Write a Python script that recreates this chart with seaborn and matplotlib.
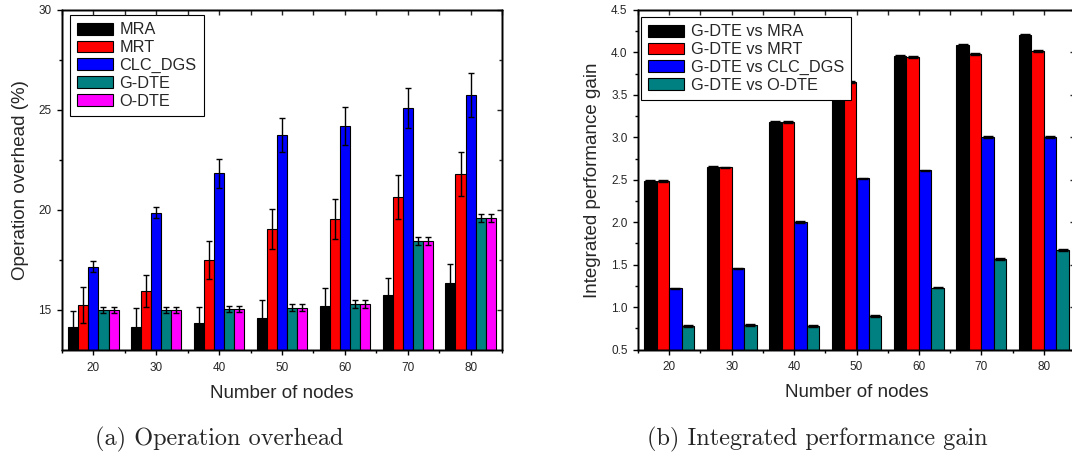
import numpy as np
import pandas as pd
import matplotlib
matplotlib.use("Agg")
import matplotlib.pyplot as plt
import seaborn as sns
from matplotlib.ticker import FixedLocator, MultipleLocator, FormatStrFormatter

# ---------------- data ----------------
nodes = ["20", "30", "40", "50", "60", "70", "80"]

# (a) Operation overhead (%)
methods_a = ["MRA", "MRT", "CLC_DGS", "G-DTE", "O-DTE"]
mra = [14.17, 14.15, 14.33, 14.58, 15.20, 15.75, 16.33]
mra_err = [0.80, 0.97, 0.83, 0.92, 0.88, 0.83, 0.95]
mrt = [15.25, 15.95, 17.50, 19.05, 19.55, 20.67, 21.80]
mrt_err = [0.92, 0.80, 0.97, 1.00, 1.00, 1.10, 1.08]
clc = [17.17, 19.87, 21.83, 23.75, 24.22, 25.08, 25.75]
clc_err = [0.28, 0.27, 0.73, 0.87, 0.95, 1.00, 1.12]
gdte = [15.00, 15.00, 15.05, 15.12, 15.30, 18.45, 19.58]
gdte_err = [0.17, 0.17, 0.17, 0.17, 0.20, 0.18, 0.20]
odte = [15.00, 15.00, 15.05, 15.12, 15.30, 18.45, 19.58]
odte_err = [0.17, 0.17, 0.17, 0.17, 0.20, 0.18, 0.20]

# (b) Integrated performance gain
methods_b = ["G-DTE vs MRA", "G-DTE vs MRT", "G-DTE vs CLC_DGS", "G-DTE vs O-DTE"]
vs_mra = [2.49, 2.65, 3.18, 3.655, 3.958, 4.09, 4.21]
vs_mrt = [2.485, 2.645, 3.18, 3.65, 3.95, 3.98, 4.02]
vs_clc = [1.22, 1.455, 2.005, 2.515, 2.61, 3.00, 3.00]
vs_odte = [0.773, 0.79, 0.78, 0.895, 1.23, 1.567, 1.67]
gain_err = [0.01, 0.01, 0.01, 0.01, 0.01, 0.01, 0.01]

colors_a = ["#000000", "#FF0000", "#0000FF", "#008080", "#FF00FF"]
colors_b = ["#000000", "#FF0000", "#0000FF", "#008080"]

df_a = pd.DataFrame({
    "nodes": nodes * 5,
    "method": [m for m in methods_a for _ in nodes],
    "value": mra + mrt + clc + gdte + odte,
})
errs_a = [mra_err, mrt_err, clc_err, gdte_err, odte_err]

df_b = pd.DataFrame({
    "nodes": nodes * 4,
    "method": [m for m in methods_b for _ in nodes],
    "value": vs_mra + vs_mrt + vs_clc + vs_odte,
})
errs_b = [gain_err] * 4

# ---------------- style ----------------
sns.set_style("ticks")
plt.rcParams["font.family"] = ["Liberation Sans", "DejaVu Sans"]
plt.rcParams["axes.linewidth"] = 1.0
plt.rcParams["axes.edgecolor"] = "black"

fig = plt.figure(figsize=(10.72, 4.55), dpi=100)
ax1 = fig.add_axes([62 / 1072, 105 / 455, 440 / 1072, 340 / 455])
ax2 = fig.add_axes([638 / 1072, 105.5 / 455, 437 / 1072, 339.5 / 455])


def draw(ax, df, order_h, cols, errs, ylim, major, minor, ylabel, capsize,
         leg_anchor, yfmt):
    sns.barplot(data=df, x="nodes", y="value", hue="method", order=nodes,
                hue_order=order_h, palette=dict(zip(order_h, cols)),
                errorbar=None, edgecolor="black", linewidth=0.8, width=0.8,
                saturation=1, ax=ax)
    bar_conts = list(ax.containers)
    leg = ax.get_legend()
    handles = list(leg.legend_handles)
    labels = [t.get_text() for t in leg.get_texts()]
    leg.remove()
    for c, e in zip(bar_conts, errs):
        xs = [p.get_x() + p.get_width() / 2 for p in c]
        ys = [p.get_height() for p in c]
        ax.errorbar(xs, ys, yerr=e, fmt="none", ecolor="black",
                    elinewidth=1.0, capsize=capsize, capthick=1.0, zorder=3)
    ax.set_xlim(-0.5, 6.5)
    ax.set_ylim(*ylim)
    ax.yaxis.set_major_locator(MultipleLocator(major))
    ax.yaxis.set_minor_locator(MultipleLocator(minor))
    ax.yaxis.set_major_formatter(yfmt)
    ax.xaxis.set_minor_locator(FixedLocator(np.arange(-0.5, 7.0, 1.0)))
    ax.tick_params(which="major", direction="out", length=3.5, width=1,
                   labelsize=8.5, pad=4, color="black")
    ax.tick_params(which="minor", direction="out", length=2, width=1,
                   color="black")
    ax.tick_params(axis="x", which="major", pad=5)
    ax.set_xlabel("Number of nodes", fontsize=13.5, labelpad=8)
    ax.set_ylabel(ylabel, fontsize=13.5, labelpad=7)
    for s in ax.spines.values():
        s.set_visible(True)
        s.set_color("black")
        s.set_linewidth(1.0)
    for h in handles:
        h.set_edgecolor("black")
        h.set_linewidth(0.8)
    lg = ax.legend(handles, labels, loc="upper left", bbox_to_anchor=leg_anchor,
                   borderaxespad=0, fontsize=11.7, frameon=True, fancybox=False,
                   edgecolor="black", framealpha=1, handlelength=2.2,
                   handleheight=0.75, labelspacing=0.17, handletextpad=0.4,
                   borderpad=0.45)
    lg.get_frame().set_linewidth(0.8)
    # inward ticks on top and right
    axt = ax.twiny()
    axt.set_xlim(ax.get_xlim())
    axt.xaxis.set_major_locator(FixedLocator(np.arange(0, 7, 1.0)))
    axt.xaxis.set_minor_locator(FixedLocator(np.arange(-0.5, 7.0, 1.0)))
    axt.tick_params(which="both", direction="in", labeltop=False, width=1)
    axt.tick_params(which="major", length=3.5)
    axt.tick_params(which="minor", length=3.5)
    axr = ax.twinx()
    axr.set_ylim(ax.get_ylim())
    axr.yaxis.set_major_locator(MultipleLocator(major))
    axr.yaxis.set_minor_locator(MultipleLocator(minor))
    axr.tick_params(which="both", direction="in", labelright=False, width=1)
    axr.tick_params(which="major", length=3.5)
    axr.tick_params(which="minor", length=2)
    for a in (axt, axr):
        a.grid(False)
        for s in a.spines.values():
            s.set_color("black")
            s.set_linewidth(1.0)


draw(ax1, df_a, methods_a, colors_a, errs_a, (13, 30), 5, 2.5,
     "Operation overhead (%)", 2.5, (0.018, 0.985), FormatStrFormatter("%d"))
draw(ax2, df_b, methods_b, colors_b, errs_b, (0.5, 4.5), 0.5, 0.25,
     "Integrated performance gain", 3.5, (0.007, 0.979),
     FormatStrFormatter("%.1f"))

fig.text(219 / 1072, 1 - 439 / 455, "(a) Operation overhead", ha="center",
         va="center", fontsize=17.5, family=["cmr10", "DejaVu Serif"])
fig.text(817 / 1072, 1 - 439 / 455, "(b) Integrated performance gain",
         ha="center", va="center", fontsize=17.5,
         family=["cmr10", "DejaVu Serif"])

fig.savefig("out.png", dpi=100)
